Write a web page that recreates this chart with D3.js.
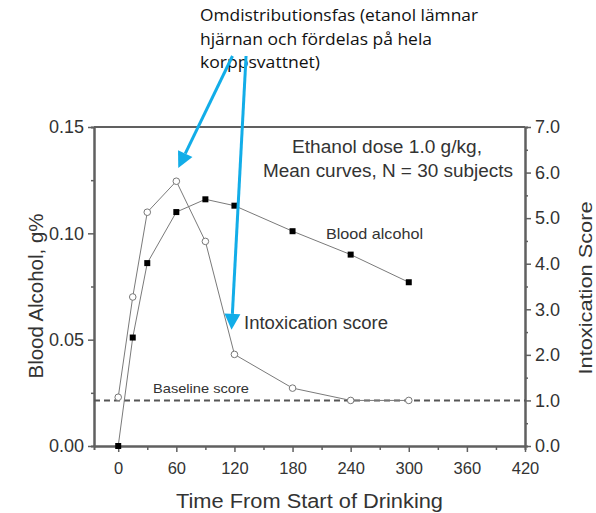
<!DOCTYPE html>
<html>
<head>
<meta charset="utf-8">
<script src="https://cdn.jsdelivr.net/npm/d3@7"></script>
<style>
  body { margin: 0; background: #fff; }
  svg { display: block; }
</style>
</head>
<body>
<div id="viz"></div>
<script>
// data
const times = [0, 15, 30, 60, 90, 120, 180, 240, 300];
const bloodAlcohol = [0.000, 0.051, 0.086, 0.110, 0.116, 0.113, 0.101, 0.090, 0.077];
const scoreTimes = [0, 15, 30, 60, 90, 120, 180, 240, 300];
const intoxScore = [1.07, 3.27, 5.13, 5.81, 4.49, 2.01, 1.27, 1.00, 1.00];
const baselineScore = 1.0;
const xTicks = [0, 60, 120, 180, 240, 300, 360, 420];
const leftTicks = [0.00, 0.05, 0.10, 0.15];
const rightTicks = [0, 1, 2, 3, 4, 5, 6, 7];

(function(){
  const W = 596, H = 513;
  const plot = { left: 94, right: 525, top: 127, bottom: 446 };
  const axisColor = "#606060";
  const lineColor = "#7a7a7a";
  const arrowColor = "#12ade8";
  const font = "'Liberation Sans', Arial, sans-serif";

  const svg = d3.select("#viz").append("svg")
    .attr("width", W).attr("height", H);

  // widen text to the span it has in the picture
  function fit(sel, len) {
    sel.attr("textLength", len).attr("lengthAdjust", "spacingAndGlyphs");
    return sel;
  }

  // scales
  const x = d3.scaleLinear().domain([-25, 420]).range([plot.left, plot.right]);
  const yL = d3.scaleLinear().domain([0, 0.15]).range([plot.bottom, plot.top]);
  const yR = d3.scaleLinear().domain([0, 7]).range([plot.bottom, plot.top]);

  // top frame line
  svg.append("line")
    .attr("x1", plot.left).attr("x2", plot.right)
    .attr("y1", plot.top).attr("y2", plot.top)
    .attr("stroke", axisColor).attr("stroke-width", 2);

  function styleAxis(size) {
    return g => {
      g.selectAll("path.domain").attr("stroke", axisColor).attr("stroke-width", 2);
      g.selectAll(".tick line").attr("stroke", axisColor).attr("stroke-width", 1.5);
      g.selectAll("text").attr("font-family", font).attr("font-size", size).attr("fill", "#333");
    };
  }

  // minor ticks (no labels)
  svg.append("g")
    .attr("transform", `translate(0,${plot.bottom})`)
    .call(d3.axisBottom(x).tickValues(d3.range(30, 420, 60)).tickSize(4).tickFormat(""))
    .call(styleAxis(16));
  svg.append("g")
    .attr("transform", `translate(${plot.left},0)`)
    .call(d3.axisLeft(yL).tickValues([0.025, 0.075, 0.125]).tickSize(3).tickFormat(""))
    .call(styleAxis(16));
  svg.append("g")
    .attr("transform", `translate(${plot.right},0)`)
    .call(d3.axisRight(yR).tickValues(d3.range(0.5, 7, 1)).tickSize(3).tickFormat(""))
    .call(styleAxis(16));

  // major axes
  svg.append("g")
    .attr("transform", `translate(0,${plot.bottom})`)
    .call(d3.axisBottom(x).tickValues(xTicks).tickSize(6).tickPadding(10).tickSizeOuter(0))
    .call(styleAxis(16.5));
  svg.append("g")
    .attr("transform", `translate(${plot.left},0)`)
    .call(d3.axisLeft(yL).tickValues(leftTicks).tickSize(6).tickPadding(4)
      .tickSizeOuter(0).tickFormat(d3.format(".2f")))
    .call(styleAxis(18));
  svg.append("g")
    .attr("transform", `translate(${plot.right},0)`)
    .call(d3.axisRight(yR).tickValues(rightTicks).tickSize(6).tickPadding(4)
      .tickSizeOuter(0).tickFormat(d3.format(".1f")))
    .call(styleAxis(18));

  // axis titles
  fit(svg.append("text")
    .attr("x", (plot.left + plot.right) / 2).attr("y", 508)
    .attr("text-anchor", "middle")
    .attr("font-family", font).attr("font-size", 20).attr("fill", "#333")
    .text("Time From Start of Drinking"), 267);
  fit(svg.append("text")
    .attr("transform", "translate(43,296) rotate(-90)")
    .attr("text-anchor", "middle")
    .attr("font-family", font).attr("font-size", 20).attr("fill", "#333")
    .text("Blood Alcohol, g%"), 165);
  fit(svg.append("text")
    .attr("transform", "translate(592,288) rotate(-90)")
    .attr("text-anchor", "middle")
    .attr("font-family", font).attr("font-size", 19).attr("fill", "#333")
    .text("Intoxication Score"), 173);

  // baseline dashed line
  svg.append("line")
    .attr("x1", plot.left).attr("x2", plot.right)
    .attr("y1", yR(baselineScore)).attr("y2", yR(baselineScore))
    .attr("stroke", "#555").attr("stroke-width", 2)
    .attr("stroke-dasharray", "6 4");

  const baRows = times.map((t, i) => ({ t: t, v: bloodAlcohol[i] }));
  const scRows = scoreTimes.map((t, i) => ({ t: t, v: intoxScore[i] }));

  // intoxication score line
  svg.append("path")
    .datum(scRows)
    .attr("fill", "none").attr("stroke", lineColor).attr("stroke-width", 1)
    .attr("d", d3.line().x(d => x(d.t)).y(d => yR(d.v)));

  // blood alcohol line
  svg.append("path")
    .datum(baRows)
    .attr("fill", "none").attr("stroke", lineColor).attr("stroke-width", 1)
    .attr("d", d3.line().x(d => x(d.t)).y(d => yL(d.v)));

  // open markers
  svg.selectAll("circle.score")
    .data(scRows).enter().append("circle")
    .attr("class", "score")
    .attr("cx", d => x(d.t)).attr("cy", d => yR(d.v))
    .attr("r", 3.3)
    .attr("fill", "#fff").attr("stroke", "#777").attr("stroke-width", 1);

  // filled square markers
  svg.selectAll("rect.ba")
    .data(baRows).enter().append("rect")
    .attr("class", "ba")
    .attr("x", d => x(d.t) - 3).attr("y", d => yL(d.v) - 3)
    .attr("width", 6).attr("height", 6)
    .attr("fill", "#000");

  // labels inside the plot
  fit(svg.append("text")
    .attr("x", 387).attr("y", 153).attr("text-anchor", "middle")
    .attr("font-family", font).attr("font-size", 17.5).attr("fill", "#333")
    .text("Ethanol dose 1.0 g/kg,"), 190);
  fit(svg.append("text")
    .attr("x", 388).attr("y", 177).attr("text-anchor", "middle")
    .attr("font-family", font).attr("font-size", 17.5).attr("fill", "#333")
    .text("Mean curves, N = 30 subjects"), 250);

  fit(svg.append("text")
    .attr("x", 326).attr("y", 239)
    .attr("font-family", font).attr("font-size", 15).attr("fill", "#333")
    .text("Blood alcohol"), 97);
  fit(svg.append("text")
    .attr("x", 244).attr("y", 329)
    .attr("font-family", font).attr("font-size", 18).attr("fill", "#333")
    .text("Intoxication score"), 144);
  fit(svg.append("text")
    .attr("x", 153).attr("y", 393)
    .attr("font-family", font).attr("font-size", 13).attr("fill", "#333")
    .text("Baseline score"), 96);

  // Swedish annotation
  const noteLines = ["Omdistributionsfas (etanol lämnar", "hjärnan och fördelas på hela", "korppsvattnet)"];
  const noteY = [21, 45, 68];
  const noteW = [278, 232, 120];
  noteLines.forEach((s, i) => {
    fit(svg.append("text")
      .attr("x", 200).attr("y", noteY[i])
      .attr("font-family", "'Open Sans', 'Noto Sans', sans-serif")
      .attr("font-size", 17).attr("fill", "#111")
      .text(s), noteW[i]);
  });

  // blue arrows (annotation positions in data units)
  const arrows = [
    { from: [x(118), 56], to: [x(62), yR(6.1)] },
    { from: [x(132), 56], to: [x(117), yR(2.55)] }
  ];
  arrows.forEach(a => {
    const [x1, y1] = a.from, [x2, y2] = a.to;
    const ang = Math.atan2(y2 - y1, x2 - x1);
    const headLen = 16, headW = 8;
    const bx = x2 - headLen * Math.cos(ang), by = y2 - headLen * Math.sin(ang);
    svg.append("line")
      .attr("x1", x1).attr("y1", y1).attr("x2", bx).attr("y2", by)
      .attr("stroke", arrowColor).attr("stroke-width", 3);
    const px = -Math.sin(ang) * headW, py = Math.cos(ang) * headW;
    svg.append("path")
      .attr("d", `M${x2},${y2}L${bx + px},${by + py}L${bx - px},${by - py}Z`)
      .attr("fill", arrowColor);
  });
})();
</script>
</body>
</html>
